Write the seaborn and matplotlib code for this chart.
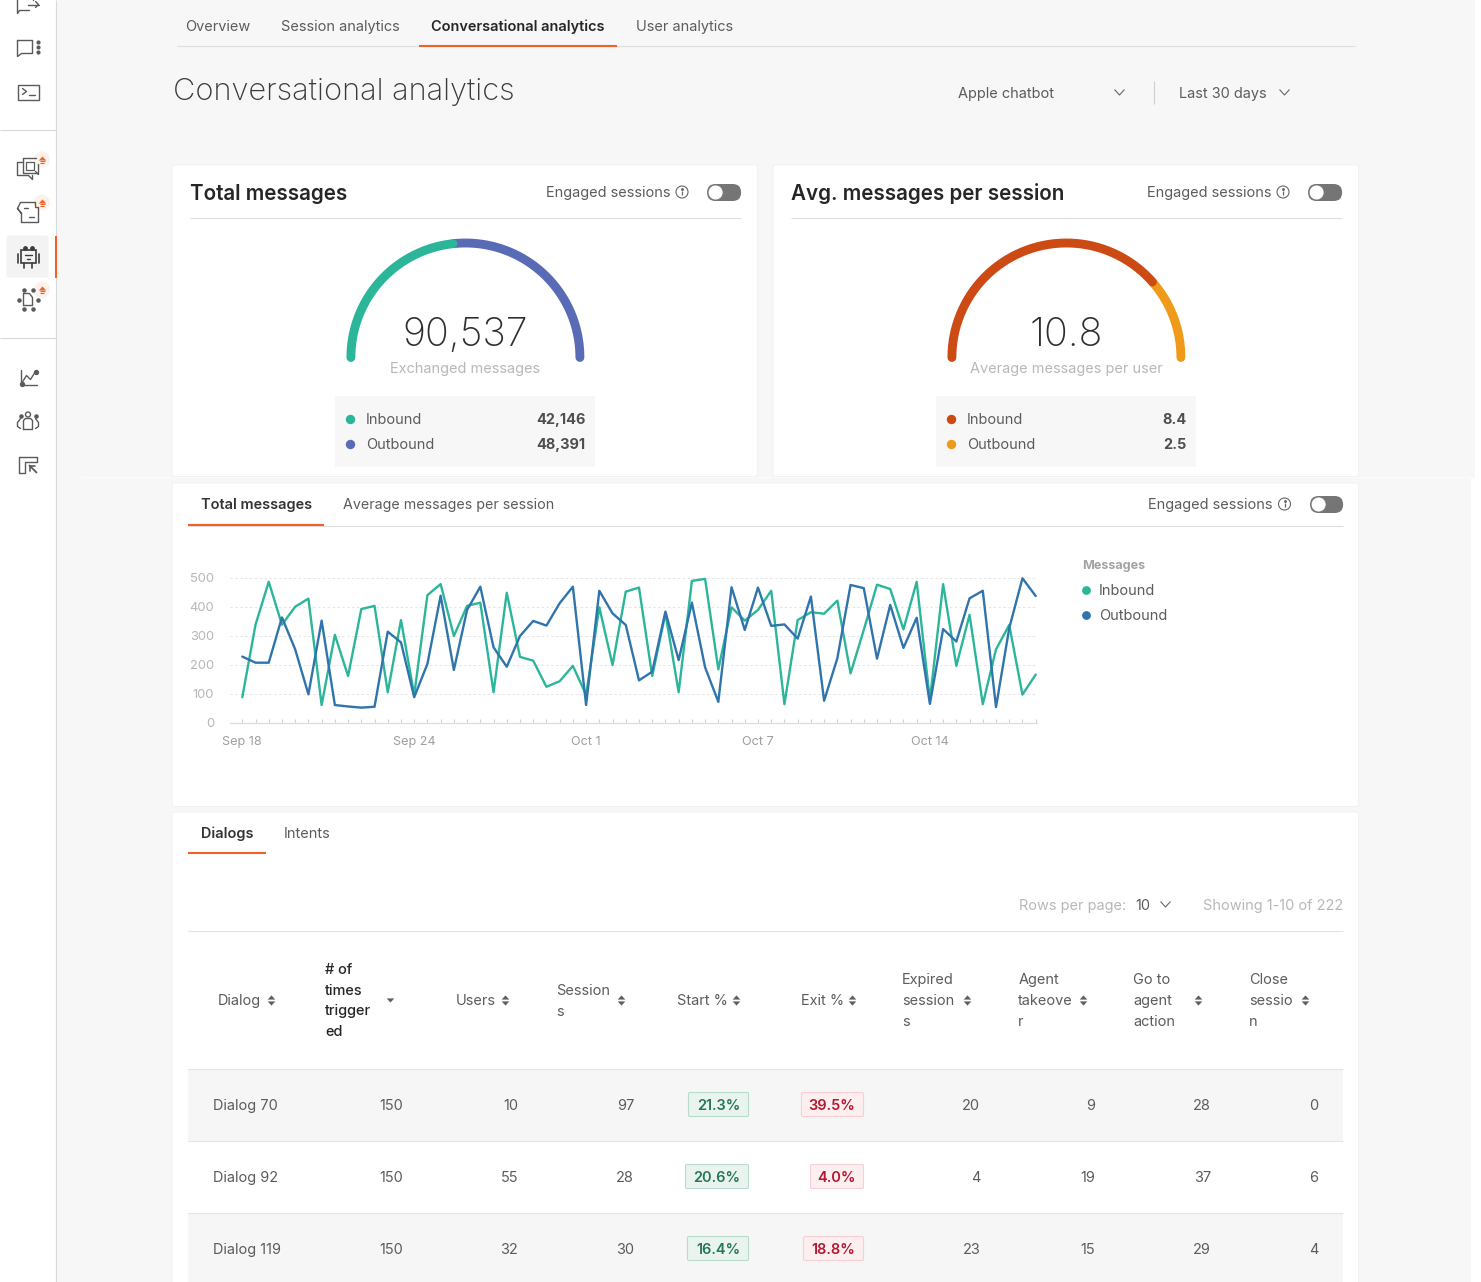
import numpy as np
import pandas as pd
import matplotlib
matplotlib.use("Agg")
import matplotlib.pyplot as plt
from matplotlib.patches import FancyBboxPatch, Rectangle, Circle
from matplotlib.transforms import ScaledTranslation
import seaborn as sns

# ---------- data ----------
inbound_series = [90,340,488,340,402,430,63,305,163,394,405,107,356,98,442,480,301,405,416,107,450,229,216,126,145,198,98,400,
                  201,454,468,163,379,107,491,498,186,400,354,391,457,66,356,383,378,423,172,322,478,463,324,488,80,480,198,374,66,255,339,99,168]
outbound_series = [230,209,209,365,255,100,354,63,58,54,57,316,279,90,205,440,184,391,471,262,195,301,353,337,414,471,63,457,
                   379,339,148,178,385,218,416,193,74,469,322,468,336,341,292,437,78,224,477,466,223,408,260,364,67,325,282,431,457,56,328,500,439]
date_tick_index = [0, 13, 26, 39, 52]
date_tick_labels = ["Sep 18", "Sep 24", "Oct 1", "Oct 7", "Oct 14"]
y_ticks = [0, 100, 200, 300, 400, 500]

total_inbound, total_outbound = 42146, 48391
avg_inbound, avg_outbound = 8.4, 2.5

dialogs = ["Dialog 70", "Dialog 92", "Dialog 119"]
triggered = [150, 150, 150]
users = [10, 55, 32]
sessions = [97, 28, 30]
start_pct = ["21.3%", "20.6%", "16.4%"]
exit_pct = ["39.5%", "4.0%", "18.8%"]
expired = [20, 4, 23]
takeover = [9, 19, 15]
go_agent = [28, 37, 29]
close_session = [0, 6, 4]

W, H = 1481, 1282
BG = "#f7f7f7"; ORANGE = "#f26125"; LINE = "#dedede"
GREEN = "#2bb69a"; PURPLE = "#5a6bb5"; RED = "#cc4a14"; AMBER = "#f09a1a"; BLUE = "#2f74ad"
TXT = "#5c5c5c"; DARK = "#262626"; MUTED = "#b8b8b8"

sns.set_theme(style="white")
plt.rcParams["font.family"] = ["Inter", "DejaVu Sans"]
fig = plt.figure(figsize=(W/100, H/100), dpi=100, facecolor="white")
ov = fig.add_axes([0, 0, 1, 1], zorder=0)
ov.set_xlim(0.5, W+0.5); ov.set_ylim(H+0.5, 0.5); ov.axis("off")

def T(x, y, s, px=14.5, c=TXT, w="normal", ha="left"):
    ov.text(x+0.7, y+0.36*px, s, fontsize=px*0.72, color=c, fontweight=w, ha=ha, va="baseline", zorder=6)
def R(l, t, r, b, fc, ec="none", lw=0, rr=0, z=1):
    if rr:
        ov.add_patch(FancyBboxPatch((l, t), r-l, b-t, boxstyle=f"round,pad=0,rounding_size={rr}", fc=fc, ec=ec, lw=lw, zorder=z))
    else:
        ov.add_patch(Rectangle((l, t), r-l, b-t, fc=fc, ec=ec, lw=lw, zorder=z))
def L(xs, ys, c=LINE, lw=0.8, z=2, cap="butt"):
    ov.plot(xs, ys, color=c, lw=lw, zorder=z, solid_capstyle=cap, solid_joinstyle="round")
def chevron(x, y, c="#666666"):
    L([x-5, x, x+5], [y-3, y+2.5, y-3], c=c, lw=0.8, z=5)
def toggle(l, t, r, b):
    l += 0.6; r += 0.6; t += 0.5; b += 0.5
    R(l, t, r, b, "#757575", rr=(b-t)/2-0.1, z=4)
    ov.add_patch(Circle((l+(b-t)/2, (t+b)/2), (b-t)/2-1, fc="white", ec="#757575", lw=0.6, zorder=5))
def info(x, y):
    ov.add_patch(Circle((x, y), 6, fc="none", ec="#666666", lw=0.8, zorder=5))
    L([x, x], [y-1.2, y+3.2], c="#666666", lw=0.9, z=5)
    ov.scatter([x], [y-3.2], s=1.2, c="#666666", zorder=5)
UP = [(-1, -0.55), (1, -0.55), (0, 0.55)]
DOWN = [(-1, 0.55), (1, 0.55), (0, -0.55)]
def sort_arrows(x, y, c="#5f5f5f"):
    ov.scatter([x], [y-3.2], marker=UP, s=30, c=c, linewidths=0, zorder=5)
    ov.scatter([x], [y+3.2], marker=DOWN, s=30, c=c, linewidths=0, zorder=5)
def dot(x, y, c, s=46):
    ov.scatter([x], [y], s=s, c=c, linewidths=0, zorder=5)

# ---------- page backgrounds ----------
R(57, 0, 1475, 478, BG)
R(57, 478, 1471, H+2, BG)
L([80, 1471], [477.5, 477.5], c="#fbfbfb", lw=0.8)
R(0, 0, 56, H+2, "white")
L([56.5, 56.5], [0, H+2], c="#d9d9d9", lw=0.8)
L([0, 56], [130.5, 130.5], c="#d9d9d9"); L([0, 56], [338.5, 338.5], c="#d9d9d9")

# ---------- sidebar icons ----------
IC = "#5a5a5a"; IK = "#3c3c3c"
R(7, 236, 49, 278, "#f3f3f3", rr=2)
R(55, 236, 57, 278, ORANGE, z=3)
def icl(xs, ys, c=IC, lw=1.0): L(xs, ys, c=c, lw=lw, z=5, cap="round")
icl([19, 33, 33], [-3, -3, 0]); icl([18, 18, 20, 30], [-3, 14, 11, 11]); icl([28, 39], [5, 5]); icl([36, 39, 36], [2, 5, 8])
icl([18, 33, 33, 22, 18, 18], [41, 41, 54, 54, 57, 41])
for yy in (42, 47, 52): ov.scatter([38], [yy], s=4, c=IC, zorder=5)
R(18, 85, 39, 100, "none", ec=IC, lw=1.0, z=5); icl([23, 27, 23], [89, 92, 95]); icl([29, 35], [95.5, 95.5])
icl([23, 18, 18, 29, 33, 33], [163, 163, 176, 176, 180, 176]); icl([23, 36], [158, 158]); icl([23, 23, 37], [158, 173, 173]); icl([39, 39, 36], [165, 175, 172]); R(26, 162, 34, 170, "none", ec=IC, lw=0.9, z=5)
icl([18, 21, 36, 36], [209, 203, 203, 207]); icl([22, 18, 22, 22, 39, 39, 36], [214, 209, 214, 223, 223, 208, 208]); icl([24, 28], [208, 208]); icl([29, 34], [217, 217])
R(21, 250, 36, 263, "none", ec=IK, lw=1.2, z=5); icl([18, 18], [254, 263], c=IK, lw=1.2); icl([39.5, 39.5], [254, 263], c=IK, lw=1.2)
icl([24, 24], [263, 268], c=IK, lw=1.2); icl([32, 32], [263, 268], c=IK, lw=1.2); icl([25, 32], [255, 255], c=IK); icl([27, 30], [259, 259], c=IK)
ov.scatter([25, 32], [248, 248], s=6, c=IK, zorder=5)
icl([24, 30, 33, 33, 24, 24], [294, 294, 298, 306, 306, 294])
ov.scatter([19, 38, 24, 33, 24, 33], [300, 300, 290.6, 290.6, 309.5, 309.5], s=5, c=IC, zorder=5)
icl([21, 21, 37], [370, 385, 385]); icl([22, 27, 31, 36], [384, 376, 380, 372]); ov.scatter([22, 36], [384, 372], s=8, c=IC, zorder=5)
ov.add_patch(Circle((28.5, 415), 2.5, fc="none", ec=IC, lw=1.0, zorder=5)); icl([24, 24, 26, 31, 33, 33, 24], [430, 421, 419, 419, 421, 430, 430])
icl([21, 18, 18, 21], [419, 423, 427, 429]); icl([36, 39, 39, 36], [419, 423, 427, 429]); ov.scatter([21, 36], [416, 416], s=5, c=IC, zorder=5)
icl([19, 19, 37, 37, 25, 25, 19], [473, 457, 457, 462, 462, 473, 473]); icl([30, 37], [466, 473], lw=1.3); icl([30, 30, 35], [471, 466, 466], lw=1.2)
for yy in (160, 203, 290):
    ov.add_patch(Circle((42.5, yy), 8, fc="#fdf1ea", ec="none", zorder=4))
    ov.scatter([42.5], [yy-2], marker=UP, s=28, c=ORANGE, linewidths=0, zorder=5)
    L([40, 45], [yy+1.6, yy+1.6], c=ORANGE, lw=0.8, z=5); L([40.5, 44.5], [yy+3.6, yy+3.6], c=ORANGE, lw=0.8, z=5)

# ---------- header ----------
T(185, 26, "Overview"); T(281, 26, "Session analytics")
T(431, 26, "Conversational analytics", c=DARK, w="semibold"); T(636, 26, "User analytics")
L([177, 1355], [46.5, 46.5]); L([419, 617], [46, 46], c=ORANGE, lw=1.5, z=3)
T(173, 89.5, "Conversational analytics", px=30.8, c="#3a3a3a", w="light")
T(958, 93, "Apple chatbot"); chevron(1120, 93)
L([1154, 1154], [81, 104], c="#cfcfcf"); T(1179, 93, "Last 30 days"); chevron(1285, 93)

# ---------- cards ----------
def card(l, t, r, b):
    R(l-1, t-1, r+1, b+1, "#f2f2f2", rr=2, z=1)
    R(l, t, r, b, "white", rr=2, z=1)
card(173, 166, 757.5, 476.5); card(774, 166, 1358.5, 476.5); card(173, 484, 1358.5, 806.5); card(173, 813, 1358.5, H+6)

def gauge_card(dx, title, v_in, v_out, big, sub, c_in, c_out, fmt):
    T(190+dx, 193, title, px=20.6, c=DARK, w="semibold")
    T(546+dx, 192, "Engaged sessions"); info(682.5+dx, 192.5); toggle(707+dx, 184, 741+dx, 201)
    L([190+dx, 741+dx], [218.5, 218.5])
    cx, cy, rad = 465.9+dx, 358.0, 114.5
    split = 180.0 * (1 - v_in/(v_in+v_out))
    for a, b, c in ((split, 0.0, c_out), (180.0, split, c_in)):
        th = np.radians(np.linspace(a, b, 200))
        L(cx+rad*np.cos(th), cy-rad*np.sin(th), c=c, lw=6.4, z=4, cap="round")
    T(465+dx, 332, big, px=39.5, c="#2f2f2f", w="light", ha="center")
    T(465+dx, 368, sub, px=14.5, c=MUTED, ha="center")
    R(335+dx, 396, 595+dx, 467, BG, z=2)
    for y, lab, val, c in ((419, "Inbound", v_in, c_in), (444, "Outbound", v_out, c_out)):
        dot(350+dx, y, c); T(366+dx, y, lab)
        T(585+dx, y, fmt(val), c="#4f4f4f", w="bold", ha="right")

gauge_card(0, "Total messages", total_inbound, total_outbound, f"{total_inbound+total_outbound:,}", "Exchanged messages", GREEN, PURPLE, lambda v: f"{v:,}")
gauge_card(601, "Avg. messages per session", avg_inbound, avg_outbound, "10.8", "Average messages per user", RED, AMBER, lambda v: f"{v}")

# ---------- line chart card ----------
T(201, 504, "Total messages", c="#333333", w="semibold"); T(343, 504, "Average messages per session", px=14.3)
L([188, 1343], [526.5, 526.5]); L([188, 324], [525, 525], c=ORANGE, lw=1.5, z=3)
T(1148, 504, "Engaged sessions"); info(1285, 504.5); toggle(1310, 496, 1343, 513)
T(1082, 565, "Messages", px=12.6, c="#a3a3a3", w="bold")
dot(1086, 590.5, GREEN, s=40); T(1099, 590, "Inbound")
dot(1086, 615.5, BLUE, s=40); T(1099, 615, "Outbound")

def px_axes(l, t, r, b):
    return fig.add_axes([l/W, 1-b/H, (r-l)/W, (b-t)/H], zorder=2, facecolor="none")
ax = px_axes(230, 578.3, 1037, 723.3)
n = len(inbound_series)
df = pd.DataFrame({"i": list(range(n))*2, "Messages": inbound_series+outbound_series,
                   "Series": ["Inbound"]*n+["Outbound"]*n})
sns.lineplot(data=df, x="i", y="Messages", hue="Series", palette={"Inbound": GREEN, "Outbound": BLUE},
             linewidth=1.7, legend=False, ax=ax, clip_on=False, errorbar=None)
ax.set_xlim(-0.93, 60.1); ax.set_ylim(0, 500)
ax.set_xlabel(""); ax.set_ylabel("")
for s in ("top", "left", "right"): ax.spines[s].set_visible(False)
ax.spines["bottom"].set_color("#dddddd"); ax.spines["bottom"].set_linewidth(0.9)
ax.set_yticks(y_ticks)
ax.tick_params(axis="y", left=False, length=0, pad=11.5, labelsize=9.3, labelcolor="#b7b7b7")
for lab in ax.get_yticklabels():
    lab.set_transform(lab.get_transform() + ScaledTranslation(0, 1.0/100, fig.dpi_scale_trans))
ax.set_xticks(range(n))
ax.set_xticklabels([date_tick_labels[date_tick_index.index(i)] if i in date_tick_index else "" for i in range(n)])
ax.tick_params(axis="x", bottom=True, direction="in", length=2.6, width=0.8, color="#d2d2d2", pad=9.5, labelsize=9.1, labelcolor="#9f9f9f")
ax.yaxis.grid(True, color="#e4e4e4", lw=0.7, ls=(0, (2.5, 2.5)))
ax.xaxis.grid(False); ax.set_axisbelow(True)

# ---------- table card ----------
T(201, 833, "Dialogs", c="#333333", w="semibold"); T(284, 833, "Intents")
L([188, 266], [853, 853], c=ORANGE, lw=1.5, z=3)
T(1019, 905, "Rows per page:", c=MUTED); T(1135, 905, "10"); chevron(1166, 905)
T(1343, 905, "Showing 1-10 of 222", c=MUTED, ha="right")
L([188, 1343], [931.5, 931.5], c="#e3e3e3")

headers = [(218, ["Dialog"], 271), (456, ["Users"], 505), (556, ["Session", "s"], 621),
           (677, ["Start %"], 736), (801, ["Exit %"], 852), (902, ["Expired", "session", "s"], 967),
           (1018, ["Agent", "takeove", "r"], 1083), (1133, ["Go to", "agent", "action"], 1198),
           (1249, ["Close", "sessio", "n"], 1305)]
for x, lines, ax_x in headers:
    y0 = 979 if len(lines) == 3 else (1000 if len(lines) == 1 else 990)
    for k, s in enumerate(lines): T(x, y0+k*21, s)
    sort_arrows(ax_x, 1000.5)
for k, s in enumerate(["# of", "times", "trigger", "ed"]):
    T(325, 969+k*20.8, s, c=DARK, w="medium")
ov.scatter([390], [1000], marker=DOWN, s=30, c="#5f5f5f", linewidths=0, zorder=5)

row_y = [1105, 1177, 1249]
R(188, 1069, 1343, 1141, "#f6f6f6", z=2); R(188, 1213, 1343, H+5, "#f6f6f6", z=2)
for y in (1069.5, 1141.5, 1213.5): L([188, 1343], [y, y], c="#e4e4e4", z=3)
badge_left_start = [689, 686, 688]
badge_left_exit = [802, 811, 804]
for i, y in enumerate(row_y):
    T(213, y, dialogs[i])
    for x, col in ((403, triggered), (518, users), (634, sessions), (980, expired), (1095, takeover), (1211, go_agent), (1318, close_session)):
        T(x, y, str(col[i]), ha="right")
    R(badge_left_start[i], y-12, 749, y+12, "#e9f4ef", ec="#b7dccd", lw=0.8, rr=1.5, z=3)
    T(740, y, start_pct[i], c="#27775a", w="semibold", ha="right")
    R(badge_left_exit[i], y-12, 864, y+12, "#fdeef0", ec="#f8cfd4", lw=0.8, rr=1.5, z=3)
    T(855, y, exit_pct[i], c="#b5172e", w="semibold", ha="right")

fig.savefig("out.png", dpi=100, facecolor="white")
